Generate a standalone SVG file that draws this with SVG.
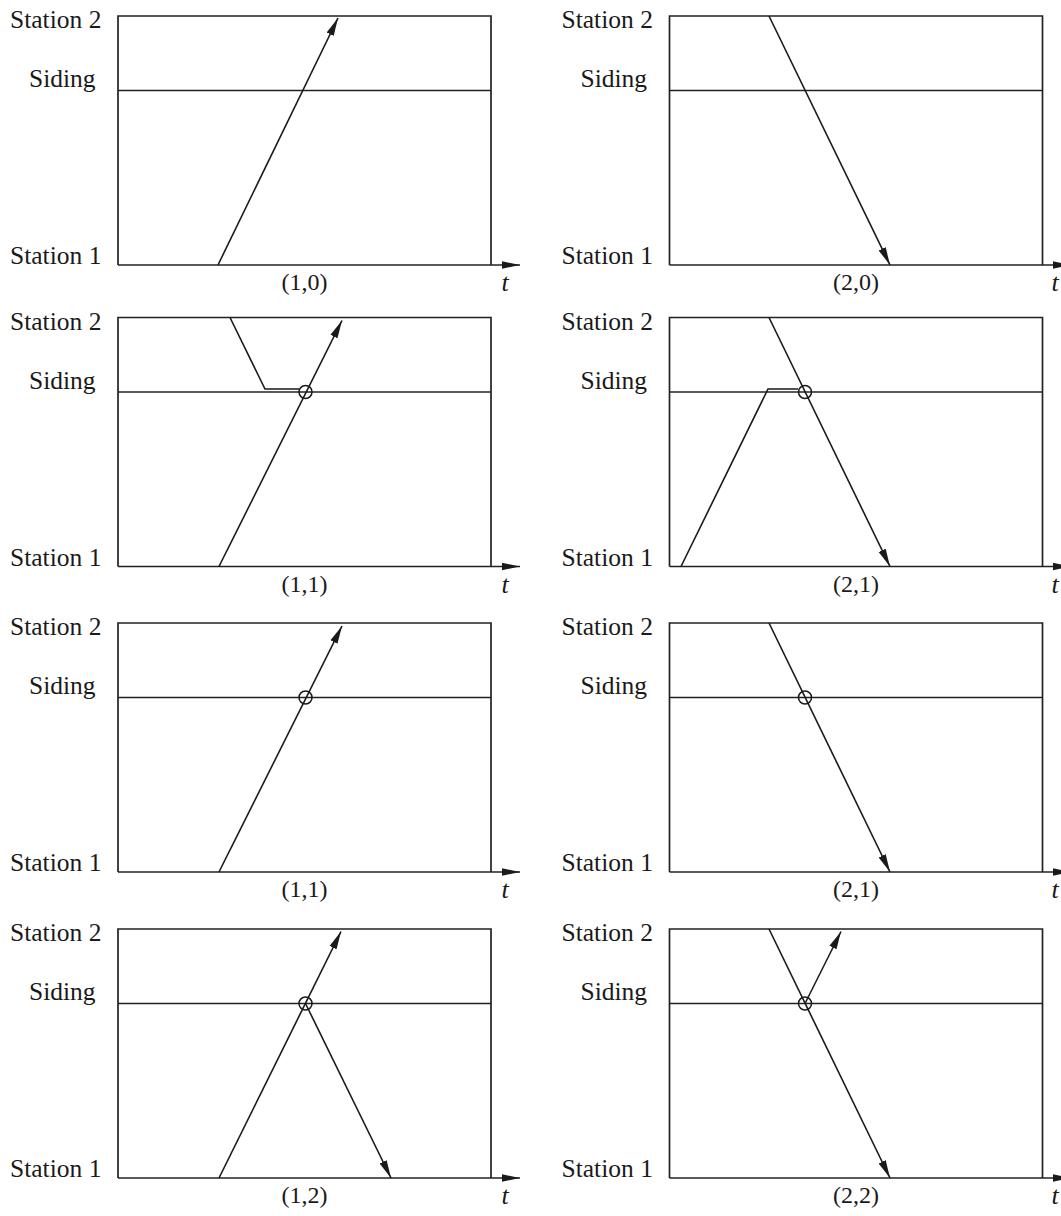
<svg xmlns="http://www.w3.org/2000/svg" width="1061" height="1216" viewBox="0 0 1061 1216">
<style>
.ln{fill:none;stroke:#222;stroke-width:1.7}
.tr{fill:none;stroke:#1a1a1a;stroke-width:1.6}
.cc{fill:none;stroke:#1a1a1a;stroke-width:1.5}
.lb{font-family:"Liberation Serif","Times New Roman",serif;font-size:25.5px;fill:#1a1a1a}
.cap{font-family:"Liberation Serif","Times New Roman",serif;font-size:24px;fill:#1a1a1a;text-anchor:middle}
.t{font-family:"Liberation Serif","Times New Roman",serif;font-size:26px;font-style:italic;fill:#1a1a1a;text-anchor:middle}
</style>
<defs>
<marker id="ah" markerUnits="userSpaceOnUse" markerWidth="19" markerHeight="9" refX="18" refY="4.5" orient="auto"><path d="M0,0.6 L18,4.5 L0,8.4 z" fill="#1a1a1a"/></marker>
<marker id="ax" markerUnits="userSpaceOnUse" markerWidth="19" markerHeight="9" refX="18" refY="4.5" orient="auto"><path d="M0,0.8 L18,4.5 L0,8.2 z" fill="#1a1a1a"/></marker>
</defs>
<rect width="1061" height="1216" fill="#fff"/>

<!-- Row 1 -->
<g id="panel-1-0" transform="translate(0,16)">
<text class="lb" x="10" y="12">Station 2</text>
<text class="lb" x="29" y="71">Siding</text>
<text class="lb" x="10" y="248">Station 1</text>
<path class="ln" d="M118,249 V0 H491 V249"/>
<path class="ln" d="M118,249 H520" marker-end="url(#ax)"/>
<path class="ln" d="M118,74.5 H491"/>
<text class="cap" x="304.5" y="274">(1,0)</text>
<text class="t" x="505" y="275">t</text>
<g class="connectors">
<path class="tr" d="M218,249 L338,2" marker-end="url(#ah)"/>
</g>
</g>
<g id="panel-2-0" transform="translate(0,16)">
<text class="lb" x="561.5" y="12">Station 2</text>
<text class="lb" x="580.5" y="71">Siding</text>
<text class="lb" x="561.5" y="248">Station 1</text>
<path class="ln" d="M669.5,249 V0 H1042.5 V249"/>
<path class="ln" d="M669.5,249 H1071" marker-end="url(#ax)"/>
<path class="ln" d="M669.5,74.5 H1042.5"/>
<text class="cap" x="856" y="274">(2,0)</text>
<text class="t" x="1055" y="275">t</text>
<g class="connectors">
<path class="tr" d="M769,0 L890,249" marker-end="url(#ah)"/>
</g>
</g>

<!-- Row 2 -->
<g id="panel-1-1a" transform="translate(0,317.5)">
<text class="lb" x="10" y="12">Station 2</text>
<text class="lb" x="29" y="71">Siding</text>
<text class="lb" x="10" y="248">Station 1</text>
<path class="ln" d="M118,249 V0 H491 V249"/>
<path class="ln" d="M118,249 H520" marker-end="url(#ax)"/>
<path class="ln" d="M118,74.5 H491"/>
<text class="cap" x="304.5" y="274">(1,1)</text>
<text class="t" x="505" y="275">t</text>
<g class="connectors">
<path class="tr" d="M219,249 L342,3" marker-end="url(#ah)"/>
<path class="tr" d="M230,0 L265,71.5 H299"/>
<circle class="cc" cx="305.5" cy="74.5" r="6.5"/>
</g>
</g>
<g id="panel-2-1a" transform="translate(0,317.5)">
<text class="lb" x="561.5" y="12">Station 2</text>
<text class="lb" x="580.5" y="71">Siding</text>
<text class="lb" x="561.5" y="248">Station 1</text>
<path class="ln" d="M669.5,249 V0 H1042.5 V249"/>
<path class="ln" d="M669.5,249 H1071" marker-end="url(#ax)"/>
<path class="ln" d="M669.5,74.5 H1042.5"/>
<text class="cap" x="856" y="274">(2,1)</text>
<text class="t" x="1055" y="275">t</text>
<g class="connectors">
<path class="tr" d="M769,0 L890,249" marker-end="url(#ah)"/>
<path class="tr" d="M681,249 L768,71.5 H798"/>
<circle class="cc" cx="805" cy="74.5" r="6.5"/>
</g>
</g>

<!-- Row 3 -->
<g id="panel-1-1b" transform="translate(0,623)">
<text class="lb" x="10" y="12">Station 2</text>
<text class="lb" x="29" y="71">Siding</text>
<text class="lb" x="10" y="248">Station 1</text>
<path class="ln" d="M118,249 V0 H491 V249"/>
<path class="ln" d="M118,249 H520" marker-end="url(#ax)"/>
<path class="ln" d="M118,74.5 H491"/>
<text class="cap" x="304.5" y="274">(1,1)</text>
<text class="t" x="505" y="275">t</text>
<g class="connectors">
<path class="tr" d="M219,249 L342,3" marker-end="url(#ah)"/>
<circle class="cc" cx="305.5" cy="74.5" r="6.5"/>
</g>
</g>
<g id="panel-2-1b" transform="translate(0,623)">
<text class="lb" x="561.5" y="12">Station 2</text>
<text class="lb" x="580.5" y="71">Siding</text>
<text class="lb" x="561.5" y="248">Station 1</text>
<path class="ln" d="M669.5,249 V0 H1042.5 V249"/>
<path class="ln" d="M669.5,249 H1071" marker-end="url(#ax)"/>
<path class="ln" d="M669.5,74.5 H1042.5"/>
<text class="cap" x="856" y="274">(2,1)</text>
<text class="t" x="1055" y="275">t</text>
<g class="connectors">
<path class="tr" d="M769,0 L890,249" marker-end="url(#ah)"/>
<circle class="cc" cx="805" cy="74.5" r="6.5"/>
</g>
</g>

<!-- Row 4 -->
<g id="panel-1-2" transform="translate(0,929)">
<text class="lb" x="10" y="12">Station 2</text>
<text class="lb" x="29" y="71">Siding</text>
<text class="lb" x="10" y="248">Station 1</text>
<path class="ln" d="M118,249 V0 H491 V249"/>
<path class="ln" d="M118,249 H520" marker-end="url(#ax)"/>
<path class="ln" d="M118,74.5 H491"/>
<text class="cap" x="304.5" y="274">(1,2)</text>
<text class="t" x="505" y="275">t</text>
<g class="connectors">
<path class="tr" d="M219,249 L341,2.5" marker-end="url(#ah)"/>
<path class="tr" d="M305.5,74.5 L391,249" marker-end="url(#ah)"/>
<circle class="cc" cx="305.5" cy="74.5" r="6.5"/>
</g>
</g>
<g id="panel-2-2" transform="translate(0,929)">
<text class="lb" x="561.5" y="12">Station 2</text>
<text class="lb" x="580.5" y="71">Siding</text>
<text class="lb" x="561.5" y="248">Station 1</text>
<path class="ln" d="M669.5,249 V0 H1042.5 V249"/>
<path class="ln" d="M669.5,249 H1071" marker-end="url(#ax)"/>
<path class="ln" d="M669.5,74.5 H1042.5"/>
<text class="cap" x="856" y="274">(2,2)</text>
<text class="t" x="1055" y="275">t</text>
<g class="connectors">
<path class="tr" d="M769,0 L890,249" marker-end="url(#ah)"/>
<path class="tr" d="M805,74.5 L841,2.5" marker-end="url(#ah)"/>
<circle class="cc" cx="805" cy="74.5" r="6.5"/>
</g>
</g>
</svg>
